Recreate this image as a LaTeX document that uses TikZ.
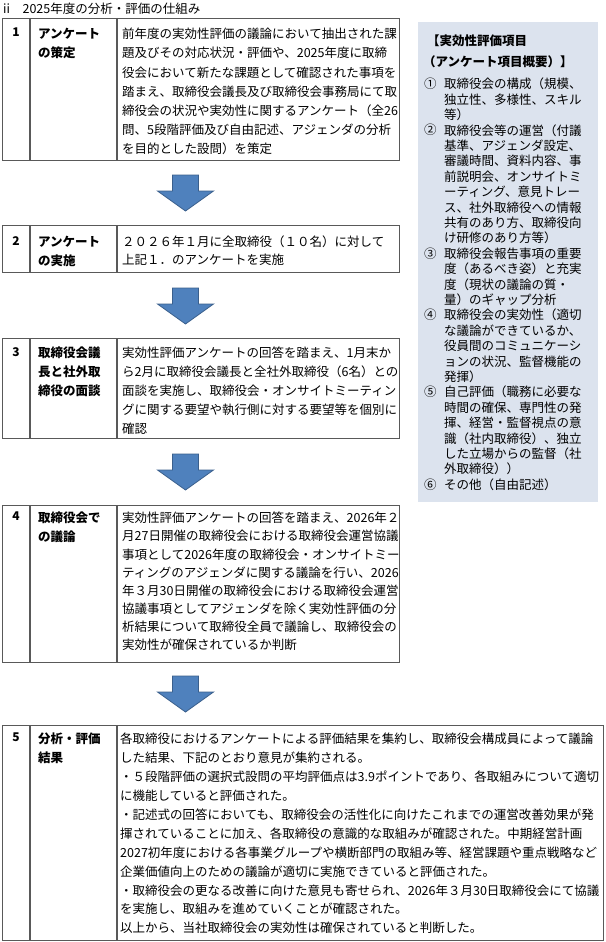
\documentclass[tikz,border=0pt]{standalone}
\usepackage{fontspec}
\newfontfamily\cjk{Noto Sans CJK JP}
\definecolor{rule}{HTML}{595959}
\definecolor{panel}{HTML}{DCE3EE}
\definecolor{arrfill}{HTML}{4F81BD}
\definecolor{arrdraw}{HTML}{3A5F8C}
\tikzset{
  tbox/.style={draw=rule, line width=1.2pt, anchor=north west, inner sep=0pt},
  sep/.style={draw=rule, line width=1.2pt},
  numtxt/.style={anchor=north, inner sep=0pt, font=\cjk\bfseries\fontsize{12}{18}\selectfont},
  labtxt/.style={anchor=north west, inner sep=0pt, align=left, font=\cjk\bfseries\fontsize{12.5}{19}\selectfont},
  bodytxt/.style={anchor=north west, inner sep=0pt, align=left},
  blockarrow/.style={fill=arrfill, draw=arrdraw, line width=0.8pt, line join=miter},
  paneltxt/.style={anchor=north west, inner sep=0pt, align=left, font=\cjk\fontsize{12.5}{15.4}\selectfont}
}
\newcommand{\downarrowblock}[2]{% cx, top
  \fill[blockarrow] (#1-13,#2) -- (#1+13,#2) -- (#1+13,#2+16) -- (#1+28,#2+16) -- (#1,#2+36) -- (#1-28,#2+16) -- (#1-13,#2+16) -- cycle;
}
\begin{document}
\begin{tikzpicture}[x=1pt,y=-1pt]
\useasboundingbox (0,0) rectangle (605,942);
\fill[white] (0,0) rectangle (605,942);

% title
\node[anchor=west, inner sep=0pt, font=\cjk\fontsize{12.5}{15}\selectfont] (title) at (3,9) {ii　2025年度の分析・評価の仕組み};

% right panel
\node[fill=panel, anchor=north west, minimum width=180pt, minimum height=480pt, inner sep=0pt] (panel) at (418,22) {};
\node[anchor=north west, inner sep=0pt, font=\cjk\bfseries\fontsize{12.5}{15}\selectfont] (ph1) at (427,35) {【実効性評価項目};
\node[anchor=north west, inner sep=0pt, font=\cjk\bfseries\fontsize{12.5}{15}\selectfont] (ph2) at (423,56) {（アンケート項目概要）】};
\node[paneltxt] (pn1) at (424,78) {①};
\node[paneltxt] (pn2) at (424,124.2) {②};
\node[paneltxt] (pn3) at (424,247.4) {③};
\node[paneltxt] (pn4) at (424,309) {④};
\node[paneltxt] (pn5) at (424,386) {⑤};
\node[paneltxt] (pn6) at (424,478.4) {⑥};
\node[paneltxt] (ptxt) at (444,78) {取締役会の構成（規模、\\独立性、多様性、スキル\\等）\\取締役会等の運営（付議\\基準、アジェンダ設定、\\審議時間、資料内容、事\\前説明会、オンサイトミ\\ーティング、意見トレー\\ス、社外取締役への情報\\共有のあり方、取締役向\\け研修のあり方等）\\取締役会報告事項の重要\\度（あるべき姿）と充実\\度（現状の議論の質・\\量）のギャップ分析\\取締役会の実効性（適切\\な議論ができているか、\\役員間のコミュニケーシ\\ョンの状況、監督機能の\\発揮）\\自己評価（職務に必要な\\時間の確保、専門性の発\\揮、経営・監督視点の意\\識（社内取締役）、独立\\した立場からの監督（社\\外取締役））\\その他（自由記述）};

% ---- box 1
\node[tbox, minimum width=397pt, minimum height=142pt] (b1) at (2,18) {};
\draw[sep] (30,18) -- (30,160);
\draw[sep] (117,18) -- (117,160);
\node[numtxt] (n1) at (16,28) {1};
\node[labtxt] (l1) at (38,28) {アンケート\\の策定};
\node[bodytxt, font=\cjk\fontsize{12.5}{19.2}\selectfont] (t1) at (122,28) {前年度の実効性評価の議論において抽出された課\\題及びその対応状況・評価や、2025年度に取締\\役会において新たな課題として確認された事項を\\踏まえ、取締役会議長及び取締役会事務局にて取\\締役会の状況や実効性に関するアンケート（全26\\問、5段階評価及び自由記述、アジェンダの分析\\を目的とした設問）を策定};

\downarrowblock{185.5}{175}

% ---- box 2
\node[tbox, minimum width=397pt, minimum height=47pt] (b2) at (2,225) {};
\draw[sep] (30,225) -- (30,272);
\draw[sep] (117,225) -- (117,272);
\node[numtxt] (n2) at (16,236) {2};
\node[labtxt] (l2) at (38,236) {アンケート\\の実施};
\node[bodytxt, font=\cjk\fontsize{12.5}{18}\selectfont] (t2) at (122,236) {２０２６年１月に全取締役（１０名）に対して\\上記１．のアンケートを実施};

\downarrowblock{185.5}{288}

% ---- box 3
\node[tbox, minimum width=397pt, minimum height=100pt] (b3) at (2,338) {};
\draw[sep] (30,338) -- (30,438);
\draw[sep] (117,338) -- (117,438);
\node[numtxt] (n3) at (16,347) {3};
\node[labtxt] (l3) at (38,347) {取締役会議\\長と社外取\\締役の面談};
\node[bodytxt, font=\cjk\fontsize{12.5}{18.8}\selectfont] (t3) at (122,347) {実効性評価アンケートの回答を踏まえ、1月末か\\ら2月に取締役会議長と全社外取締役（6名）との\\面談を実施し、取締役会・オンサイトミーティン\\グに関する要望や執行側に対する要望等を個別に\\確認};

\downarrowblock{185.5}{454}

% ---- box 4
\node[tbox, minimum width=397pt, minimum height=157pt] (b4) at (2,505) {};
\draw[sep] (30,505) -- (30,662);
\draw[sep] (117,505) -- (117,662);
\node[numtxt] (n4) at (16,512) {4};
\node[labtxt] (l4) at (38,512) {取締役会で\\の議論};
\node[bodytxt, font=\cjk\fontsize{12.5}{18.1}\selectfont] (t4) at (122,512) {実効性評価アンケートの回答を踏まえ、2026年２\\月27日開催の取締役会における取締役会運営協議\\事項として2026年度の取締役会・オンサイトミー\\ティングのアジェンダに関する議論を行い、2026\\年３月30日開催の取締役会における取締役会運営\\協議事項としてアジェンダを除く実効性評価の分\\析結果について取締役全員で議論し、取締役会の\\実効性が確保されているか判断};

\downarrowblock{185.5}{676}

% ---- box 5
\node[tbox, minimum width=601pt, minimum height=215pt] (b5) at (2,725) {};
\draw[sep] (30,725) -- (30,940);
\draw[sep] (117,725) -- (117,940);
\node[numtxt] (n5) at (16,733) {5};
\node[labtxt] (l5) at (38,733) {分析・評価\\結果};
\node[bodytxt, font=\cjk\fontsize{12.5}{18.9}\selectfont] (t5) at (120,733) {各取締役におけるアンケートによる評価結果を集約し、取締役会構成員によって議論\\した結果、下記のとおり意見が集約される。\\・５段階評価の選択式設問の平均評価点は3.9ポイントであり、各取組みについて適切\\に機能していると評価された。\\・記述式の回答においても、取締役会の活性化に向けたこれまでの運営改善効果が発\\揮されていることに加え、各取締役の意識的な取組みが確認された。中期経営計画\\2027初年度における各事業グループや横断部門の取組み等、経営課題や重点戦略など\\企業価値向上のための議論が適切に実施できていると評価された。\\・取締役会の更なる改善に向けた意見も寄せられ、2026年３月30日取締役会にて協議\\を実施し、取組みを進めていくことが確認された。\\以上から、当社取締役会の実効性は確保されていると判断した。};
\end{tikzpicture}
\end{document}
